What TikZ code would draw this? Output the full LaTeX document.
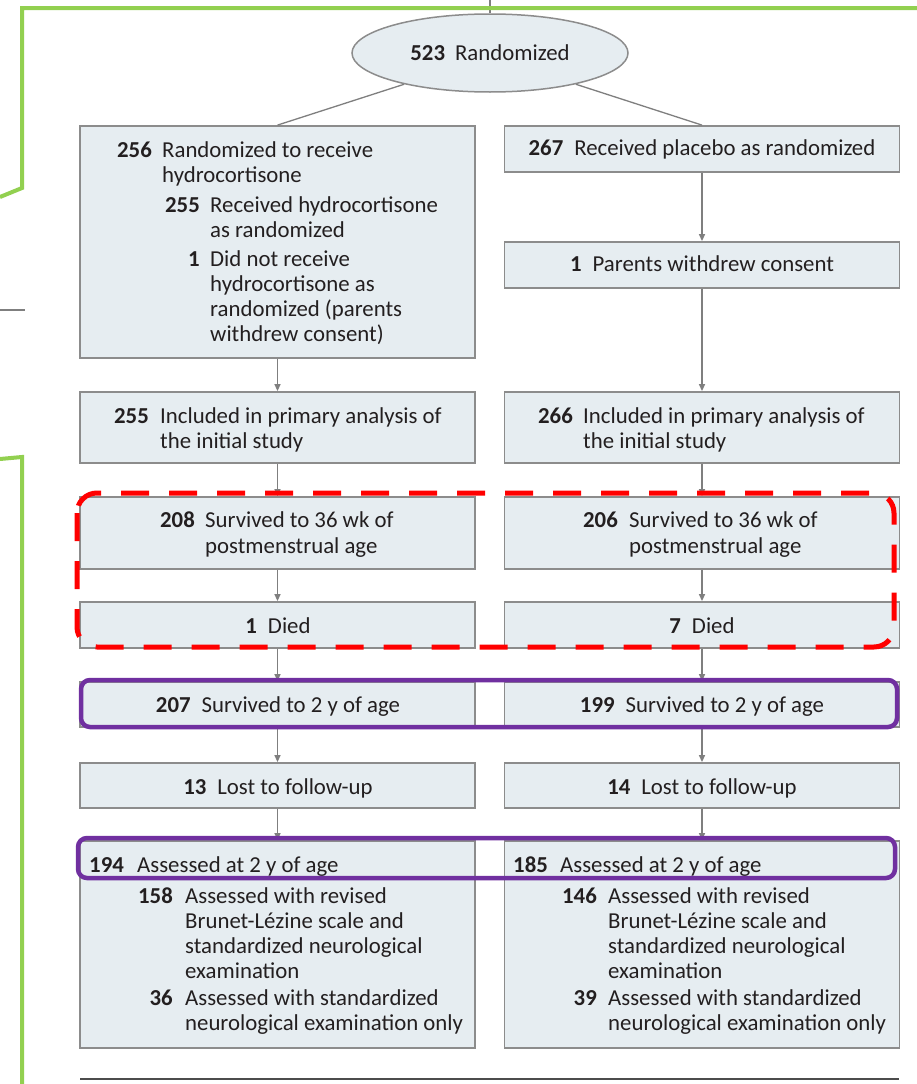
\documentclass[tikz,border=0pt]{standalone}
\usepackage{fontspec}
\setmainfont{Carlito}
\usetikzlibrary{arrows.meta,shapes.geometric}
\definecolor{boxfill}{HTML}{E6EDF1}
\definecolor{boxline}{HTML}{8C8C8C}
\definecolor{conncol}{HTML}{7F7F7F}
\definecolor{greenmark}{HTML}{92D050}
\definecolor{redmark}{HTML}{FF0000}
\definecolor{purplemark}{HTML}{7030A0}
\definecolor{txtcol}{HTML}{231F20}
\newcommand\Ltx[4]{\node[txt,anchor=base west] (#1) at (#2,#3) {#4};}
\newcommand\Lnm[4]{\node[txt,anchor=base east,font=\fontsize{22.8}{25}\selectfont\bfseries] (#1) at (#2,#3) {#4};}
\newcommand\Lct[5]{\node[txt,anchor=base] (#1) at (#2,#3) {\textbf{#4}\hspace{11pt}#5};}
\tikzset{
  box/.style={draw=boxline,fill=boxfill,line width=1.8pt,inner sep=0pt,minimum width=395pt},
  txt/.style={inner sep=0pt,text=txtcol,font=\fontsize{22.8}{25}\selectfont},
  conn/.style={draw=conncol,line width=1.3pt},
  arr/.style={conn,-{Triangle[length=7pt,width=6pt]}},
  greenline/.style={draw=greenmark,line width=4pt},
  reddash/.style={draw=redmark,line width=5pt,dash pattern=on 28pt off 20pt,rounded corners=20pt},
  purpbox/.style={draw=purplemark,line width=4.5pt,rounded corners=9pt}
}
\begin{document}
\begin{tikzpicture}[x=1pt,y=-1pt]
\useasboundingbox (0,0) rectangle (917,1084);
\fill[white] (0,0) rectangle (917,1084);
% ellipse
\node[ellipse,draw=boxline,fill=boxfill,line width=1.5pt,minimum width=276pt,minimum height=78pt,inner sep=0pt] (ell) at (490,53) {};
\node[txt] (elltxt) at (490,53) {\textbf{523}\hspace{10pt}Randomized};
\coordinate (topedge) at (0,0);
\draw[conn] (ell.north) -- (ell.north |- topedge);
% green annotation lines
\draw[greenline] (0,197) -- (22,188) -- (22,8) -- (917,8);
\draw[greenline] (0,459) -- (22,457) -- (22,1084);
\draw[conn,line width=1.5pt] (0,310) -- (25,310);
% boxes
\node[box,minimum height=232pt] (L1) at (277.5,242) {};
\node[box,minimum height=46pt] (R1) at (702,149) {};
\node[box,minimum height=46pt] (R2) at (702,265) {};
\node[box,minimum height=71pt] (L3) at (277.5,427.5) {};
\node[box,minimum height=71pt] (R3) at (702,427.5) {};
\node[box,minimum height=72pt] (L4) at (277.5,533) {};
\node[box,minimum height=72pt] (R4) at (702,533) {};
\node[box,minimum height=46pt] (L5) at (277.5,625) {};
\node[box,minimum height=46pt] (R5) at (702,625) {};
\node[box,minimum height=45pt] (L6) at (277.5,704.5) {};
\node[box,minimum height=45pt] (R6) at (702,704.5) {};
\node[box,minimum height=45pt] (L7) at (277.5,785.5) {};
\node[box,minimum height=45pt] (R7) at (702,785.5) {};
\node[box,minimum height=207pt] (L8) at (277.5,944.5) {};
\node[box,minimum height=207pt] (R8) at (702,944.5) {};
% connectors
\draw[conn] (ell.-160) -- (L1.north);
\draw[conn] (ell.-20) -- (R1.north);
\draw[arr] (R1) -- (R2);
\draw[arr] (L1) -- (L3);
\draw[arr] (R2) -- (R3);
\draw[arr] (L3) -- (L4);
\draw[arr] (R3) -- (R4);
\draw[arr] (L4) -- (L5);
\draw[arr] (R4) -- (R5);
\draw[arr] (L5) -- (L6);
\draw[arr] (R5) -- (R6);
\draw[arr] (L6) -- (L7);
\draw[arr] (R6) -- (R7);
\draw[arr] (L7) -- (L8);
\draw[arr] (R7) -- (R8);
% bottom rule
\coordinate (ruleL) at (80,1079);
\coordinate (ruleR) at (899,1079);
\draw[draw=black!70,line width=2.5pt] (ruleL) -- (ruleR);
% texts left box 1
\Lnm{n256}{152}{157}{256}
\Ltx{t256a}{162}{157}{Randomized to receive}
\Ltx{t256b}{162}{182}{hydrocortisone}
\Lnm{n255a}{200}{212}{255}
\Ltx{t255a}{210}{212}{Received hydrocortisone}
\Ltx{t255b}{210}{237}{as randomized}
\Lnm{n1a}{200}{266}{1}
\Ltx{t1a}{210}{266}{Did not receive}
\Ltx{t1b}{210}{291}{hydrocortisone as}
\Ltx{t1c}{210}{316}{randomized (parents}
\Ltx{t1d}{210}{341}{withdrew consent)}
% right boxes 1-2
\Lct{t267}{702}{155}{267}{Received placebo as randomized}
\Lct{t1p}{702}{271}{1}{Parents withdrew consent}
% box 3
\Lnm{n255b}{149}{423}{255}
\Ltx{t255c}{160}{423}{Included in primary analysis of}
\Ltx{t255d}{160}{448}{the initial study}
\Lnm{n266}{573}{423}{266}
\Ltx{t266a}{583}{423}{Included in primary analysis of}
\Ltx{t266b}{583}{448}{the initial study}
% box 4
\Lnm{n208}{195}{527}{208}
\Ltx{t208a}{205}{527}{Survived to 36 wk of}
\Ltx{t208b}{205}{553}{postmenstrual age}
\Lnm{n206}{618}{527}{206}
\Ltx{t206a}{629}{527}{Survived to 36 wk of}
\Ltx{t206b}{629}{553}{postmenstrual age}
% box 5-7
\Lct{t1died}{278}{633}{1}{Died}
\Lct{t7d}{702}{633}{7}{Died}
\Lct{t207}{278}{712}{207}{Survived to 2 y of age}
\Lct{t199}{702}{712}{199}{Survived to 2 y of age}
\Lct{t13}{278}{794}{13}{Lost to follow-up}
\Lct{t14}{702}{794}{14}{Lost to follow-up}
% box 8 left
\node[txt,anchor=base west,font=\fontsize{22.8}{25}\selectfont\bfseries] (n194) at (89,872) {194};
\Ltx{t194}{137}{872}{Assessed at 2 y of age}
\Lnm{n158}{173}{903}{158}
\Ltx{t158a}{185}{903}{Assessed with revised}
\Ltx{t158b}{185}{928}{Brunet-Lézine scale and}
\Ltx{t158c}{185}{953}{standardized neurological}
\Ltx{t158d}{185}{978}{examination}
\Lnm{n36}{173}{1005}{36}
\Ltx{t36a}{185}{1005}{Assessed with standardized}
\Ltx{t36b}{185}{1030}{neurological examination only}
% box 8 right
\node[txt,anchor=base west,font=\fontsize{22.8}{25}\selectfont\bfseries] (n185) at (513,872) {185};
\Ltx{t185}{560}{872}{Assessed at 2 y of age}
\Lnm{n146}{597}{903}{146}
\Ltx{t146a}{608}{903}{Assessed with revised}
\Ltx{t146b}{608}{928}{Brunet-Lézine scale and}
\Ltx{t146c}{608}{953}{standardized neurological}
\Ltx{t146d}{608}{978}{examination}
\Lnm{n39}{597}{1005}{39}
\Ltx{t39a}{608}{1005}{Assessed with standardized}
\Ltx{t39b}{608}{1030}{neurological examination only}
% highlight marks
\draw[reddash] (77,493) rectangle (894,647);
\draw[purpbox] (81,680) rectangle (897,727);
\draw[purpbox] (78,838) rectangle (895,878);
\end{tikzpicture}
\end{document}
